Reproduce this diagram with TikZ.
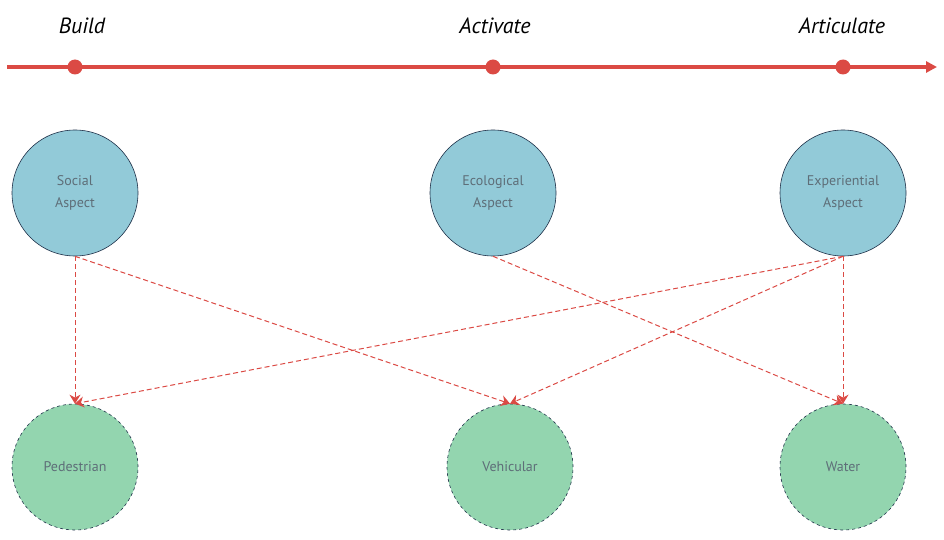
\documentclass[tikz,border=0pt]{standalone}
\usepackage{fontspec}
\setmainfont{PT Sans}
\usetikzlibrary{arrows.meta}
\definecolor{linered}{HTML}{DB4A44}
\definecolor{aspectblue}{HTML}{92CAD8}
\definecolor{modegreen}{HTML}{93D5AF}
\definecolor{rimnavy}{HTML}{1E3048}
\definecolor{labelgrey}{HTML}{5E6E78}

\begin{document}
\begin{tikzpicture}[x=1pt,y=-1pt,line width=.6pt,font=\small,
  aspect/.style={circle,draw=rimnavy,fill=aspectblue,minimum size=126pt,inner sep=0pt,align=center,text=labelgrey,font=\fontsize{14}{22}\selectfont},
  mode/.style={circle,draw=rimnavy,dashed,fill=modegreen,minimum size=126pt,inner sep=0pt,text=labelgrey,font=\fontsize{14}{22}\selectfont},
  link/.style={draw=linered,dash pattern=on 5pt off 3pt,line width=1pt,-{Stealth[length=9pt,width=11pt]}},
  stage/.style={font=\fontsize{22}{24}\selectfont\itshape}]
\useasboundingbox (0,0) rectangle (944,540);
\draw[linered,line width=3.5pt,-{Triangle[length=11pt,width=11pt]}] (7,67)--(937,67);
\foreach \x in {75,493,843} \fill[linered] (\x,67) circle (7.5pt);
\node[stage] (build) at (82,26) {Build};
\node[stage] (activate) at (495,26) {Activate};
\node[stage] (articulate) at (842,26) {Articulate};
\node[aspect] (social) at (75,193) {Social\\Aspect};
\node[aspect] (ecological) at (493,193) {Ecological\\Aspect};
\node[aspect] (experiential) at (843,193) {Experiential\\Aspect};
\node[mode] (pedestrian) at (75,467) {Pedestrian};
\node[mode] (vehicular) at (510,467) {Vehicular};
\node[mode] (water) at (843,467) {Water};
\draw[link] (social.south)--(pedestrian.north);
\draw[link] (social.south)--(vehicular.north);
\draw[link] (ecological.south)--(water.north);
\draw[link] (experiential.south)--(pedestrian.north);
\draw[link] (experiential.south)--(vehicular.north);
\draw[link] (experiential.south)--(water.north);
\end{tikzpicture}
\end{document}
